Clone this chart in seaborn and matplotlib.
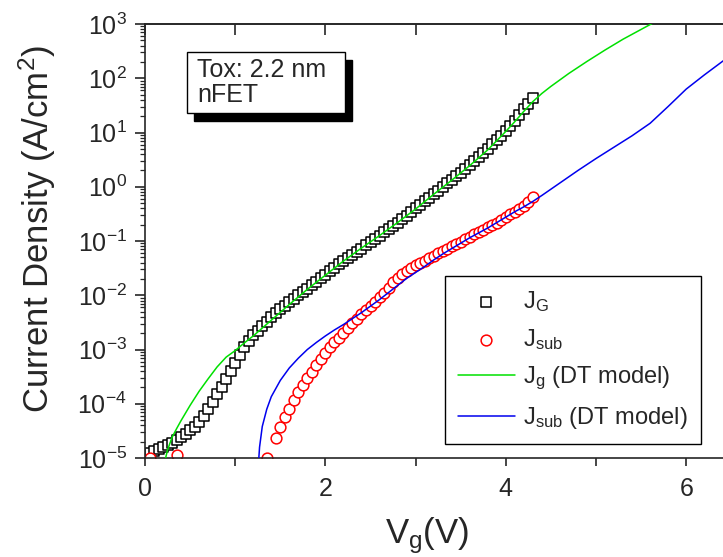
import numpy as np
import matplotlib
matplotlib.use('Agg')
import matplotlib.pyplot as plt
import seaborn as sns
from matplotlib.ticker import MultipleLocator, LogLocator, NullFormatter
from matplotlib.patches import Rectangle

# measured gate current J_G (log10 A/cm^2) vs Vg (V)
vg_jg = [0.00, 0.05, 0.10, 0.15, 0.20, 0.25, 0.30, 0.35, 0.40, 0.45,
         0.50, 0.55, 0.60, 0.65, 0.70, 0.75, 0.80, 0.85, 0.90, 0.95,
         1.00, 1.05, 1.10, 1.15, 1.20, 1.25, 1.30, 1.35, 1.40, 1.45,
         1.50, 1.55, 1.60, 1.65, 1.70, 1.75, 1.80, 1.85, 1.90, 1.95,
         2.00, 2.05, 2.10, 2.15, 2.20, 2.25, 2.30, 2.35, 2.40, 2.45,
         2.50, 2.55, 2.60, 2.65, 2.70, 2.75, 2.80, 2.85, 2.90, 2.95,
         3.00, 3.05, 3.10, 3.15, 3.20, 3.25, 3.30, 3.35, 3.40, 3.45,
         3.50, 3.55, 3.60, 3.65, 3.70, 3.75, 3.80, 3.85, 3.90, 3.95,
         4.00, 4.05, 4.10, 4.15, 4.20, 4.25, 4.30]
jg_log = [-4.95, -4.91, -4.87, -4.83, -4.80, -4.76, -4.72, -4.67, -4.61, -4.55,
          -4.49, -4.42, -4.34, -4.23, -4.09, -3.96, -3.82, -3.69, -3.54, -3.40,
          -3.25, -3.10, -2.96, -2.84, -2.74, -2.65, -2.57, -2.49, -2.41, -2.33,
          -2.26, -2.19, -2.13, -2.07, -2.00, -1.94, -1.88, -1.81, -1.75, -1.68,
          -1.62, -1.56, -1.49, -1.43, -1.37, -1.31, -1.25, -1.20, -1.14, -1.08,
          -1.02, -0.96, -0.90, -0.84, -0.78, -0.72, -0.66, -0.60, -0.53, -0.47,
          -0.40, -0.33, -0.27, -0.20, -0.13, -0.07, 0.00, 0.06, 0.13, 0.20,
          0.26, 0.33, 0.40, 0.47, 0.54, 0.62, 0.70, 0.78, 0.86, 0.94,
          1.02, 1.12, 1.22, 1.32, 1.43, 1.53, 1.63]

# measured substrate current J_sub (only points above 1e-5 are visible)
vg_jsub = [0.05, 0.35, 1.35, 1.45, 1.50, 1.55, 1.60, 1.65, 1.70, 1.75,
           1.80, 1.85, 1.90, 1.95, 2.00, 2.05, 2.10, 2.15, 2.20, 2.25,
           2.30, 2.35, 2.40, 2.45, 2.50, 2.55, 2.60, 2.65, 2.70, 2.75,
           2.80, 2.85, 2.90, 2.95, 3.00, 3.05, 3.10, 3.15, 3.20, 3.25,
           3.30, 3.35, 3.40, 3.45, 3.50, 3.55, 3.60, 3.65, 3.70, 3.75,
           3.80, 3.85, 3.90, 3.95, 4.00, 4.05, 4.10, 4.15, 4.20, 4.25, 4.30]
jsub_log = [-5.00, -4.95, -5.00, -4.63, -4.42, -4.25, -4.09, -3.93, -3.78, -3.65,
            -3.52, -3.41, -3.29, -3.18, -3.07, -2.96, -2.87, -2.78, -2.69, -2.60,
            -2.51, -2.43, -2.35, -2.28, -2.20, -2.12, -2.04, -1.96, -1.86, -1.76,
            -1.68, -1.61, -1.55, -1.50, -1.45, -1.40, -1.36, -1.31, -1.27, -1.23,
            -1.19, -1.14, -1.10, -1.06, -1.02, -0.97, -0.93, -0.88, -0.84, -0.80,
            -0.75, -0.71, -0.66, -0.61, -0.56, -0.51, -0.46, -0.41, -0.35, -0.28, -0.18]

# DT model curves
vg_model_g = [0.20, 0.25, 0.30, 0.35, 0.40, 0.50, 0.60, 0.70, 0.80, 0.90,
              1.00, 1.10, 1.20, 1.40, 1.60, 1.80, 2.00, 2.20, 2.40, 2.60,
              2.80, 3.00, 3.20, 3.40, 3.60, 3.80, 4.00, 4.10, 4.20, 4.30,
              4.40, 4.50, 4.70, 4.90, 5.10, 5.30, 5.50, 5.70]
model_g_log = [-5.20, -4.85, -4.62, -4.46, -4.31, -4.03, -3.77, -3.54, -3.32, -3.14,
               -3.02, -2.88, -2.75, -2.46, -2.17, -1.89, -1.63, -1.37, -1.13, -0.90,
               -0.66, -0.41, -0.14, 0.12, 0.39, 0.68, 1.02, 1.20, 1.39, 1.57,
               1.72, 1.85, 2.09, 2.31, 2.52, 2.72, 2.90, 3.08]

vg_model_sub = [1.25, 1.27, 1.30, 1.35, 1.40, 1.50, 1.60, 1.70, 1.80, 1.90,
                2.00, 2.10, 2.20, 2.30, 2.40, 2.50, 2.60, 2.70, 2.80, 2.90,
                3.00, 3.10, 3.20, 3.30, 3.40, 3.50, 3.60, 3.70, 3.80, 3.90,
                4.00, 4.10, 4.20, 4.30, 4.40, 4.60, 4.80, 5.00, 5.20, 5.40,
                5.60, 5.80, 6.00, 6.20, 6.45]
model_sub_log = [-5.30, -4.80, -4.42, -4.10, -3.87, -3.57, -3.34, -3.16, -3.00, -2.87,
                 -2.75, -2.64, -2.54, -2.43, -2.32, -2.20, -2.08, -1.95, -1.82, -1.69,
                 -1.58, -1.47, -1.35, -1.24, -1.14, -1.04, -0.94, -0.85, -0.76, -0.66,
                 -0.56, -0.46, -0.37, -0.27, -0.16, 0.07, 0.30, 0.52, 0.73, 0.94,
                 1.17, 1.48, 1.80, 2.06, 2.37]

sns.set_style('ticks')
plt.rcParams['font.family'] = ['Liberation Sans', 'DejaVu Sans']
plt.rcParams['mathtext.fontset'] = 'custom'
plt.rcParams['mathtext.rm'] = 'Liberation Sans'
plt.rcParams['mathtext.it'] = 'Liberation Sans:italic'
plt.rcParams['mathtext.bf'] = 'Liberation Sans:bold'
plt.rcParams['mathtext.default'] = 'regular'

W, H = 723, 557
fig = plt.figure(figsize=(W / 100, H / 100), dpi=100)
# axes runs past the right edge of the picture, like the original
ax = fig.add_axes([145 / W, 99 / H, (760 - 145) / W, 434 / H])
ax.set_yscale('log')

sns.scatterplot(x=vg_jg, y=10 ** np.array(jg_log), marker='s', s=50,
                color='white', edgecolor='black', linewidth=1.1,
                ax=ax, label='$J_G$', zorder=2)
sns.scatterplot(x=vg_jsub, y=10 ** np.array(jsub_log), marker='o', s=60,
                color='white', edgecolor='red', linewidth=1.1,
                ax=ax, label='$J_{sub}$', zorder=2)
sns.lineplot(x=vg_model_g, y=10 ** np.array(model_g_log), color='#00e000',
             linewidth=1.1, ax=ax, label='$J_g$ (DT model)', zorder=3,
             estimator=None, sort=False)
sns.lineplot(x=vg_model_sub, y=10 ** np.array(model_sub_log), color='#0000ee',
             linewidth=1.1, ax=ax, label='$J_{sub}$ (DT model)', zorder=3,
             estimator=None, sort=False)

ax.set_xlim(0, (760 - 145) / 90.2)
ax.set_ylim(1e-5, 1e3)

ax.xaxis.set_major_locator(MultipleLocator(2))
ax.xaxis.set_minor_locator(MultipleLocator(1))
ax.tick_params(axis='x', which='both', direction='out', length=6, width=1.2,
               labelsize=18, pad=8, top=False)
ax.yaxis.set_major_locator(LogLocator(base=10, numticks=20))
ax.yaxis.set_minor_locator(LogLocator(base=10, subs=np.arange(2, 10), numticks=100))
ax.yaxis.set_minor_formatter(NullFormatter())
ax.tick_params(axis='y', which='major', direction='out', length=7, width=1.2,
               labelsize=18, pad=6)
ax.tick_params(axis='y', which='minor', direction='out', length=3.5, width=0.9)
for s in ['left', 'bottom', 'top']:
    ax.spines[s].set_linewidth(1.2)
ax.spines['right'].set_visible(False)

secax = ax.secondary_xaxis('top')
secax.xaxis.set_major_locator(MultipleLocator(1))
secax.tick_params(axis='x', direction='in', length=8, width=1.2, labeltop=False)
secax.spines['top'].set_linewidth(1.2)

ax.set_xlabel('$V_g$(V)', fontsize=25)
ax.set_ylabel('Current Density (A/cm$^2$)', fontsize=25)
ax.xaxis.set_label_coords(427 / W, 1 - 515 / H, transform=fig.transFigure)
ax.yaxis.set_label_coords(58 / W, 1 - 229 / H, transform=fig.transFigure)

handles, labels = ax.get_legend_handles_labels()
leg = ax.legend(handles, labels, loc='upper left',
                bbox_to_anchor=(445 / W, 1 - 276 / H), bbox_transform=fig.transFigure,
                frameon=True, fancybox=False, edgecolor='black', framealpha=1,
                fontsize=17, handlelength=2.4, handletextpad=0.35,
                borderpad=0.55, labelspacing=0.55, borderaxespad=0)
leg.get_frame().set_linewidth(1.0)

# text box with drop shadow
fig.add_artist(Rectangle((194 / W, 1 - 121 / H), 158 / W, 61 / H,
                         facecolor='black', edgecolor='black',
                         transform=fig.transFigure))
fig.add_artist(Rectangle((187 / W, 1 - 113 / H), 158 / W, 61 / H,
                         facecolor='white', edgecolor='black', linewidth=1.0,
                         transform=fig.transFigure))
fig.text(197 / W, 1 - 58 / H, 'Tox: 2.2 nm\nnFET', fontsize=18,
         ha='left', va='top', linespacing=1.05)

fig.savefig('out.png', dpi=100)
